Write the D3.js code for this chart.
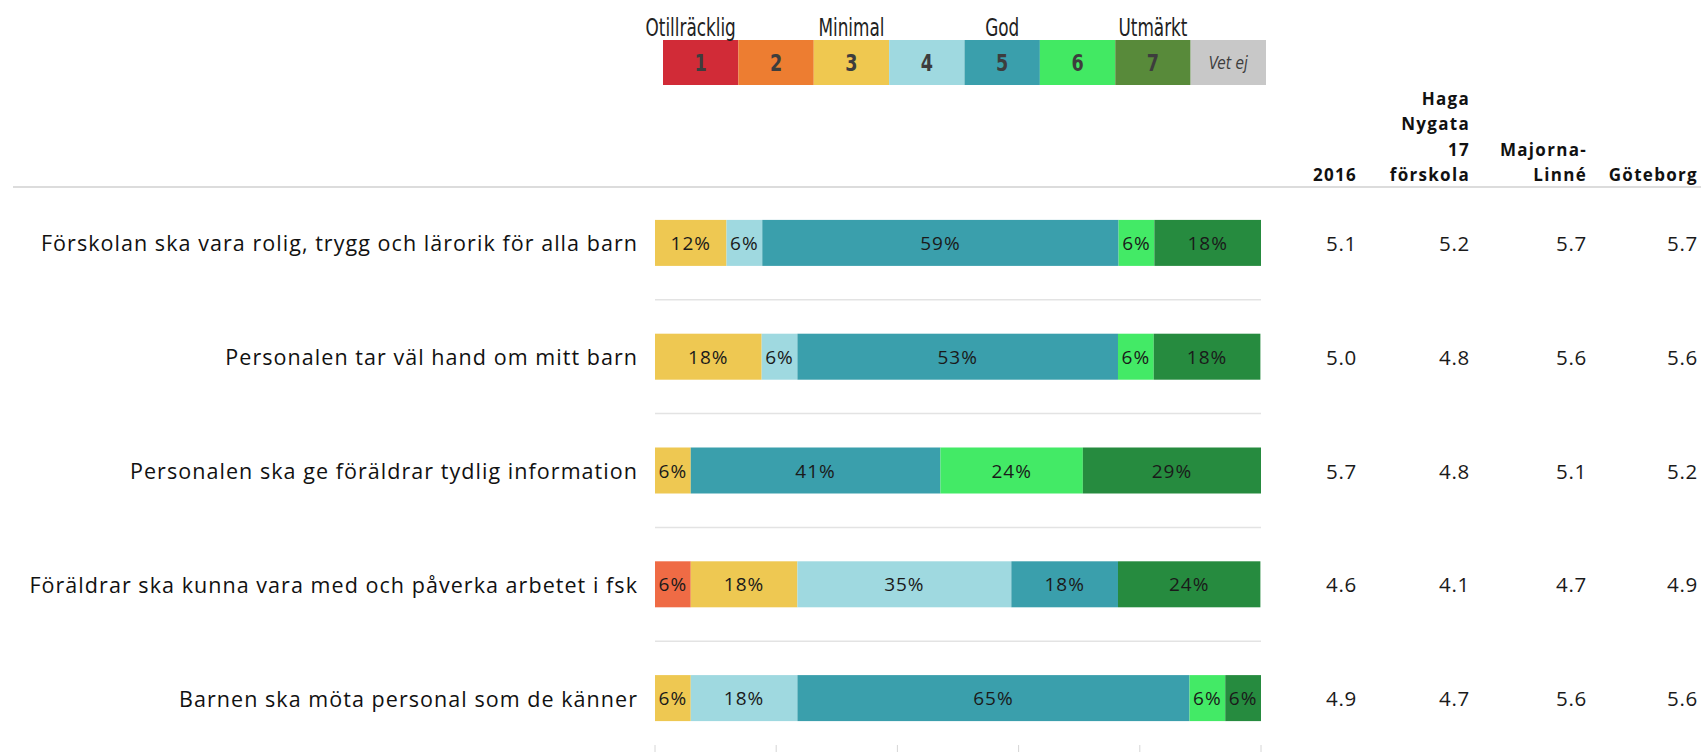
<!DOCTYPE html>
<html><head><meta charset="utf-8">
<script src="https://cdn.jsdelivr.net/npm/d3@7"></script>
<style>
html,body{margin:0;padding:0;background:#fff;}
svg{display:block;}
</style></head>
<body>
<svg id="chart" width="1701" height="752"></svg>
<script>
// ---- data ----
const rowLabels = [
  "Förskolan ska vara rolig, trygg och lärorik för alla barn",
  "Personalen tar väl hand om mitt barn",
  "Personalen ska ge föräldrar tydlig information",
  "Föräldrar ska kunna vara med och påverka arbetet i fsk",
  "Barnen ska möta personal som de känner"
];
const categories = ["1","2","3","4","5","6","7"];
const cat1 = [0, 0, 0, 0, 0];
const cat2 = [0, 0, 0, 5.9, 0];
const cat3 = [11.8, 17.6, 5.9, 17.6, 5.9];
const cat4 = [5.9, 5.9, 0, 35.3, 17.6];
const cat5 = [58.8, 52.9, 41.2, 17.6, 64.7];
const cat6 = [5.9, 5.9, 23.5, 0, 5.9];
const cat7 = [17.6, 17.6, 29.4, 23.5, 5.9];

const legendKeys = ["1","2","3","4","5","6","7","Vet ej"];
const legendTitles = ["Otillräcklig","","Minimal","","God","","Utmärkt",""];
const legendColors = ["#d12b37","#ed7d31","#efc850","#9fd9e0","#3a9fac","#42e963","#588a3a","#c8c8c8"];
const barColors = ["#d12b37","#ef6b45","#eec852","#9fd9e0","#3a9fac","#43ea66","#268b3f"];

const colHeaders = [["2016"],["Haga","Nygata","17","förskola"],["Majorna-","Linné"],["Göteborg"]];
const col2016 = [5.1, 5.0, 5.7, 4.6, 4.9];
const colHaga = [5.2, 4.8, 4.8, 4.1, 4.7];
const colMajorna = [5.7, 5.6, 5.1, 4.7, 5.6];
const colGoteborg = [5.7, 5.6, 5.2, 4.9, 5.6];
const axisTicks = [0, 20, 40, 60, 80, 100];

// ---- build ----
const svg = d3.select("#chart");
const table = rowLabels.map((r, i) => ({
  row: r, "1": cat1[i], "2": cat2[i], "3": cat3[i], "4": cat4[i],
  "5": cat5[i], "6": cat6[i], "7": cat7[i]
}));
const stack = d3.stack().keys(categories)(table);

const x = d3.scaleLinear().domain([0, 100]).range([655, 1261]);
const y = d3.scaleBand().domain(rowLabels).range([186, 755]).padding(0);
const barH = 46;
const color = d3.scaleOrdinal().domain(categories).range(barColors);

// header line
svg.append("line").attr("x1", 13).attr("x2", 1701).attr("y1", 187).attr("y2", 187)
  .attr("stroke", "#dcdcdc").attr("stroke-width", 2);

// separators between rows
svg.append("g").selectAll("line").data(rowLabels.slice(1)).join("line")
  .attr("x1", x(0)).attr("x2", x(100))
  .attr("y1", d => y(d)).attr("y2", d => y(d))
  .attr("stroke", "#e3e3e3").attr("stroke-width", 1.5);

// bottom ticks
svg.append("g").selectAll("line").data(axisTicks).join("line")
  .attr("x1", d => x(d)).attr("x2", d => x(d)).attr("y1", 745).attr("y2", 752)
  .attr("stroke", "#d6d6d6").attr("stroke-width", 1);

// bars
const segs = svg.append("g");
stack.forEach(layer => {
  const key = layer.key;
  layer.forEach(d => {
    const v = Math.round((d[1] - d[0]) * 10) / 10;
    if (v <= 0) return;
    const yy = y(d.data.row) + (y.bandwidth() - barH) / 2;
    segs.append("rect")
      .attr("x", x(d[0])).attr("width", x(d[1]) - x(d[0]))
      .attr("y", yy).attr("height", barH)
      .attr("fill", color(key));
    segs.append("text")
      .attr("x", (x(d[0]) + x(d[1])) / 2)
      .attr("y", yy + barH / 2)
      .attr("text-anchor", "middle").attr("dominant-baseline", "central")
      .attr("font-family", "'Open Sans', sans-serif").attr("font-size", 19)
      .attr("letter-spacing", 1).attr("fill", "#1a1a1a")
      .text(Math.round(v) + "%");
  });
});

// row labels
svg.append("g").selectAll("text").data(rowLabels).join("text")
  .attr("x", 638).attr("y", d => y(d) + y.bandwidth() / 2)
  .attr("text-anchor", "end").attr("dominant-baseline", "central")
  .attr("font-family", "'Open Sans', sans-serif").attr("font-size", 21.5)
  .attr("letter-spacing", 1.05).attr("fill", "#111")
  .text(d => d);

// value columns
const colX = [1357, 1470, 1587, 1698];
const cols = [col2016, colHaga, colMajorna, colGoteborg];
cols.forEach((arr, ci) => {
  svg.append("g").selectAll("text").data(arr).join("text")
    .attr("x", colX[ci]).attr("y", (d, i) => y(rowLabels[i]) + y.bandwidth() / 2)
    .attr("text-anchor", "end").attr("dominant-baseline", "central")
    .attr("font-family", "'Open Sans', sans-serif").attr("font-size", 20.5)
    .attr("letter-spacing", 0.7).attr("fill", "#1a1a1a")
    .text(d => d.toFixed(1));
  const lines = colHeaders[ci];
  svg.append("g").selectAll("text").data(lines).join("text")
    .attr("x", colX[ci])
    .attr("y", (d, i) => 181 - (lines.length - 1 - i) * 25.5)
    .attr("text-anchor", "end")
    .attr("font-family", "'Open Sans', sans-serif").attr("font-weight", "bold")
    .attr("font-size", 17).attr("letter-spacing", 1.3).attr("fill", "#111")
    .text(d => d);
});

// legend
const lx = d3.scaleBand().domain(legendKeys).range([663, 1266]).padding(0);
const lg = svg.append("g");
lg.selectAll("rect").data(legendKeys).join("rect")
  .attr("x", d => lx(d)).attr("width", lx.bandwidth())
  .attr("y", 40).attr("height", 45)
  .attr("fill", (d, i) => legendColors[i]);
lg.selectAll("text.num").data(legendKeys).join("text").attr("class", "num")
  .attr("transform", d => `translate(${lx(d) + lx.bandwidth() / 2},63) scale(0.85,1)`)
  .attr("text-anchor", "middle").attr("dominant-baseline", "central")
  .attr("font-family", "'Liberation Sans Narrow', 'DejaVu Sans Condensed', sans-serif")
  .attr("font-weight", d => d === "Vet ej" ? "normal" : "bold")
  .attr("font-style", d => d === "Vet ej" ? "italic" : "normal")
  .attr("font-size", d => d === "Vet ej" ? 18 : 23)
  .attr("fill", "#3d3d3d")
  .text(d => d);
lg.selectAll("text.title").data(legendKeys.filter((d, i) => legendTitles[i])).join("text").attr("class", "title")
  .attr("transform", (d, i) => `translate(${lx(d) + lx.bandwidth() / 2 - (i === 0 ? 10 : 0)},36) scale(0.75,1)`)
  .attr("text-anchor", "middle")
  .attr("font-family", "'Liberation Sans Narrow', 'DejaVu Sans Condensed', sans-serif")
  .attr("font-size", 25).attr("fill", "#222")
  .text(d => legendTitles[legendKeys.indexOf(d)]);
</script>
</body></html>
